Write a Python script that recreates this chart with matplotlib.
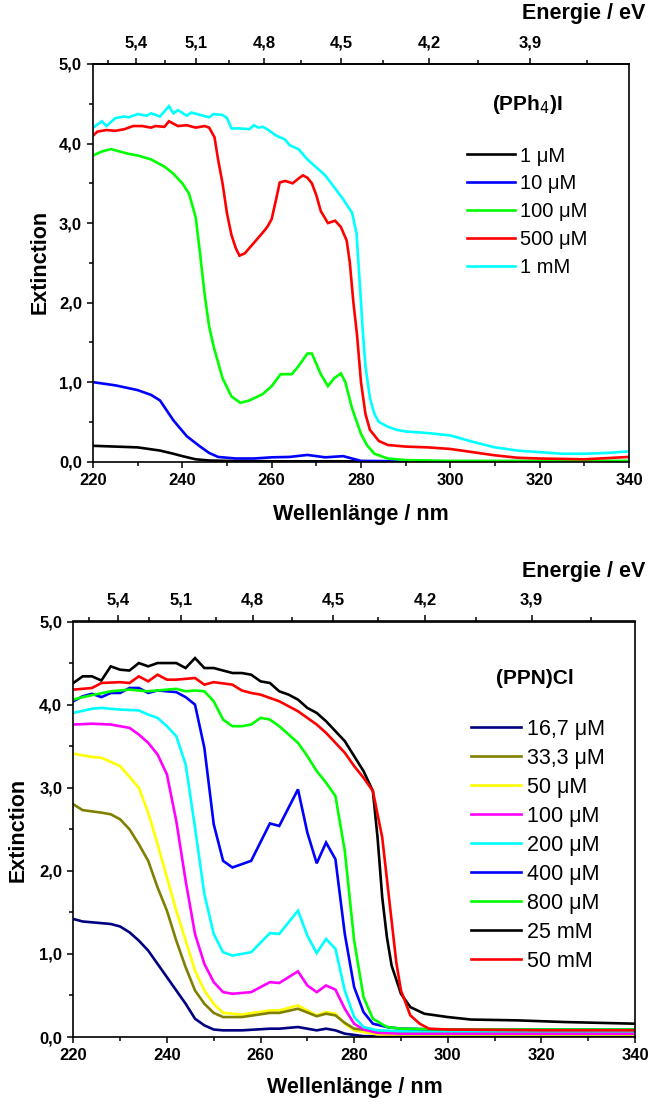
import numpy as np
import matplotlib
matplotlib.use("Agg")
import matplotlib.pyplot as plt
from matplotlib.ticker import FixedLocator, FuncFormatter, MultipleLocator

plt.rcParams['font.family'] = ['Liberation Sans', 'DejaVu Sans']

# ---------------- data: top panel (PPh4)I ----------------
top_title = "(PPh$_4$)I"
top_labels = ["1 μM", "10 μM", "100 μM", "500 μM", "1 mM"]
top_colors = ["#000000", "#0000ff", "#00ff00", "#ff0000", "#00ffff"]

t1_wl = [220, 225, 230, 235, 238, 240, 243, 246, 250, 260, 280, 300, 340]
t1_E = [0.20, 0.19, 0.18, 0.14, 0.10, 0.07, 0.03, 0.015, 0.01, 0.005, 0.005, 0.005, 0.005]

t2_wl = [220, 225, 230, 233, 235, 238, 241, 244, 246, 248, 252, 256, 260, 264, 268, 272, 276, 278, 280, 290, 340]
t2_E = [1.00, 0.96, 0.90, 0.84, 0.77, 0.52, 0.32, 0.19, 0.11, 0.06, 0.04, 0.04, 0.055, 0.06, 0.085, 0.055, 0.07, 0.04, 0.01, 0.005, 0.005]

t3_wl = [220, 222, 224, 226, 228, 230, 233, 236, 238, 240, 241.5, 243, 244, 245, 246, 247, 249, 251, 253, 255,
         258, 260, 262, 264.5, 266, 268, 269, 271, 272.6, 274, 275.5, 276.5, 278, 280, 281.3, 283, 286, 290, 300, 340]
t3_E = [3.85, 3.90, 3.93, 3.90, 3.87, 3.85, 3.80, 3.71, 3.62, 3.50, 3.37, 3.07, 2.60, 2.10, 1.70, 1.45, 1.05, 0.82, 0.74, 0.77,
        0.85, 0.95, 1.10, 1.10, 1.20, 1.36, 1.36, 1.10, 0.95, 1.05, 1.11, 1.00, 0.67, 0.35, 0.21, 0.10, 0.04, 0.02, 0.01, 0.01]

t4_wl = [220, 221, 223, 225, 227, 229, 231, 233, 234, 236, 237, 239, 241, 243, 245, 246, 247.2, 248, 249, 250, 251, 252,
         252.8, 254, 256, 258, 259, 260, 261, 261.8, 263, 264.7, 266, 267, 268, 269, 270, 271, 272.6, 274.2, 275.5, 276.8,
         277.5, 278.3, 279.1, 280, 281, 282, 284, 286, 290, 295, 300, 305, 310, 315, 320, 330, 340]
t4_E = [4.10, 4.15, 4.17, 4.16, 4.18, 4.22, 4.22, 4.20, 4.22, 4.21, 4.28, 4.22, 4.23, 4.20, 4.22, 4.20, 4.08, 3.80, 3.50, 3.12, 2.85, 2.68,
        2.59, 2.62, 2.75, 2.88, 2.95, 3.05, 3.30, 3.51, 3.53, 3.50, 3.56, 3.60, 3.57, 3.50, 3.35, 3.15, 3.00, 3.03, 2.95, 2.78,
        2.50, 2.00, 1.60, 1.00, 0.60, 0.40, 0.26, 0.21, 0.19, 0.18, 0.16, 0.12, 0.08, 0.05, 0.04, 0.03, 0.06]

t5_wl = [220, 222, 223, 225, 227, 228, 230, 232, 233, 235, 237, 238, 239, 241, 242, 244, 246, 247, 249, 250, 251, 253, 255,
         256, 257, 258, 259, 261, 263, 264, 266, 268, 270, 272, 274, 276, 278, 279, 280, 280.4, 281, 282, 283, 284, 286, 288,
         290, 295, 300, 305, 310, 315, 320, 325, 330, 335, 340]
t5_E = [4.20, 4.28, 4.22, 4.32, 4.34, 4.33, 4.37, 4.35, 4.38, 4.34, 4.47, 4.38, 4.42, 4.35, 4.39, 4.36, 4.33, 4.37, 4.36, 4.32, 4.19, 4.19, 4.18,
        4.23, 4.20, 4.21, 4.18, 4.10, 4.05, 3.98, 3.93, 3.80, 3.70, 3.60, 3.45, 3.30, 3.13, 2.87, 2.00, 1.64, 1.20, 0.80, 0.60, 0.50, 0.44, 0.40,
        0.38, 0.36, 0.33, 0.25, 0.18, 0.14, 0.12, 0.10, 0.10, 0.11, 0.13]

# ---------------- data: bottom panel (PPN)Cl ----------------
bot_title = "(PPN)Cl"
bot_labels = ["16,7 μM", "33,3 μM", "50 μM", "100 μM", "200 μM", "400 μM", "800 μM", "25 mM", "50 mM"]
bot_colors = ["#000080", "#808000", "#ffff00", "#ff00ff", "#00ffff", "#0000ff", "#00ff00", "#000000", "#ff0000"]

b1_wl = [220, 222, 224, 228, 230, 232, 234, 236, 238, 240, 242, 244, 246, 248, 250, 252, 256, 262, 264, 268, 272, 274, 276, 278, 282, 290, 300, 320, 340]
b1_E = [1.42, 1.39, 1.38, 1.36, 1.33, 1.26, 1.16, 1.04, 0.88, 0.72, 0.56, 0.40, 0.22, 0.14, 0.09, 0.08, 0.08, 0.10, 0.10, 0.12, 0.08, 0.10, 0.08, 0.04, 0.01, 0.01, 0.01, 0.01, 0.01]

b2_wl = [220, 222, 226, 228, 230, 232, 234, 236, 238, 240, 242, 244, 246, 248, 250, 252, 256, 262, 264, 268, 272, 274, 276, 278, 280, 285, 290, 300, 320, 340]
b2_E = [2.80, 2.73, 2.70, 2.68, 2.62, 2.50, 2.32, 2.12, 1.80, 1.52, 1.16, 0.84, 0.56, 0.40, 0.29, 0.24, 0.24, 0.29, 0.29, 0.34, 0.25, 0.28, 0.26, 0.17, 0.10, 0.07, 0.06, 0.06, 0.06, 0.06]

b3_wl = [220, 224, 226, 230, 234, 236, 238, 240, 242, 244, 246, 248, 250, 252, 256, 262, 264, 268, 272, 274, 276, 278, 280, 285, 290, 300, 320, 340]
b3_E = [3.41, 3.37, 3.36, 3.26, 3.00, 2.70, 2.32, 1.92, 1.52, 1.16, 0.80, 0.56, 0.40, 0.29, 0.27, 0.32, 0.32, 0.38, 0.26, 0.30, 0.28, 0.16, 0.08, 0.03, 0.03, 0.03, 0.03, 0.03]

b4_wl = [220, 224, 228, 232, 234, 236, 238, 240, 242, 244, 246, 248, 250, 252, 254, 258, 262, 264, 268, 270, 272, 274, 276, 278, 280, 282, 285, 290, 300, 320, 340]
b4_E = [3.76, 3.77, 3.76, 3.72, 3.64, 3.54, 3.40, 3.16, 2.60, 1.88, 1.24, 0.88, 0.66, 0.54, 0.52, 0.54, 0.66, 0.65, 0.79, 0.62, 0.54, 0.62, 0.57, 0.34, 0.16, 0.09, 0.05, 0.04, 0.04, 0.04, 0.04]

b5_wl = [220, 224, 226, 230, 234, 236, 238, 240, 242, 244, 246, 248, 250, 252, 254, 258, 262, 264, 268, 270, 272, 274, 276, 278, 280, 282, 285, 290, 300, 320, 340]
b5_E = [3.90, 3.95, 3.96, 3.94, 3.93, 3.88, 3.84, 3.74, 3.62, 3.28, 2.52, 1.72, 1.24, 1.02, 0.98, 1.02, 1.25, 1.24, 1.52, 1.22, 1.01, 1.18, 1.06, 0.56, 0.24, 0.12, 0.08, 0.07, 0.07, 0.07, 0.07]

b6_wl = [220, 222, 224, 226, 228, 230, 232, 234, 236, 238, 240, 242, 244, 246, 248, 250, 252, 254, 256, 258, 262, 264, 268, 270, 272, 274, 276, 278, 280, 282, 284, 287, 290, 300, 320, 340]
b6_E = [4.04, 4.10, 4.13, 4.09, 4.14, 4.14, 4.20, 4.20, 4.14, 4.17, 4.16, 4.15, 4.09, 4.00, 3.48, 2.56, 2.12, 2.04, 2.08, 2.12, 2.57, 2.54, 2.98, 2.46, 2.09, 2.34, 2.14, 1.24, 0.60, 0.30, 0.16, 0.12, 0.10, 0.09, 0.09, 0.09]

b7_wl = [220, 222, 228, 232, 236, 238, 242, 244, 246, 248, 250, 252, 254, 256, 258, 260, 262, 264, 266, 268, 270, 272, 274, 276, 278, 280, 282, 284, 287, 290, 300, 320, 340]
b7_E = [4.06, 4.09, 4.16, 4.18, 4.16, 4.17, 4.19, 4.16, 4.17, 4.16, 4.04, 3.82, 3.74, 3.74, 3.76, 3.84, 3.82, 3.74, 3.64, 3.54, 3.38, 3.20, 3.06, 2.90, 2.24, 1.16, 0.48, 0.22, 0.12, 0.10, 0.09, 0.09, 0.09]

b8_wl = [220, 222, 224, 226, 228, 230, 232, 234, 236, 238, 242, 244, 246, 248, 250, 254, 256, 258, 260, 262, 264, 266, 268, 270, 272, 274,
         276, 278, 280, 282, 284, 285, 286, 287, 288, 290, 292, 295, 300, 305, 315, 325, 340]
b8_E = [4.26, 4.34, 4.34, 4.29, 4.46, 4.42, 4.41, 4.50, 4.46, 4.50, 4.50, 4.44, 4.56, 4.44, 4.44, 4.38, 4.38, 4.36, 4.28, 4.26, 4.16, 4.12, 4.06, 3.96, 3.90, 3.80,
        3.68, 3.56, 3.38, 3.20, 2.96, 2.40, 1.68, 1.20, 0.86, 0.52, 0.36, 0.28, 0.24, 0.21, 0.20, 0.18, 0.16]

b9_wl = [220, 224, 226, 230, 232, 234, 236, 238, 240, 242, 246, 248, 250, 254, 256, 258, 260, 262, 264, 266, 268, 270, 272, 274, 276, 278,
         280, 282, 284, 286, 287, 288, 289, 290, 292, 294, 296, 300, 320, 340]
b9_E = [4.18, 4.20, 4.26, 4.27, 4.26, 4.34, 4.28, 4.36, 4.30, 4.30, 4.32, 4.24, 4.27, 4.24, 4.17, 4.14, 4.12, 4.08, 4.04, 3.98, 3.92, 3.84, 3.76, 3.66, 3.54, 3.42,
        3.26, 3.12, 2.96, 2.40, 1.90, 1.40, 0.90, 0.56, 0.26, 0.16, 0.10, 0.09, 0.08, 0.08]

top_series = [(t1_wl, t1_E), (t2_wl, t2_E), (t3_wl, t3_E), (t4_wl, t4_E), (t5_wl, t5_E)]
bot_series = [(b1_wl, b1_E), (b2_wl, b2_E), (b3_wl, b3_E), (b4_wl, b4_E), (b5_wl, b5_E),
              (b6_wl, b6_E), (b7_wl, b7_E), (b8_wl, b8_E), (b9_wl, b9_E)]
bot_draw_order = [0, 2, 1, 3, 4, 5, 6, 7, 8]

x_ticks = [220, 240, 260, 280, 300, 320, 340]
y_ticks = [0, 1, 2, 3, 4, 5]
ev_ticks = [5.4, 5.1, 4.8, 4.5, 4.2, 3.9]
ev_minor = [5.55, 5.25, 4.95, 4.65, 4.35, 4.05, 3.75]

HC = 1239.84


def nm2ev(x):
    x = np.asarray(x, dtype=float)
    with np.errstate(divide='ignore', invalid='ignore'):
        return HC / x


W, H = 652, 1108
fig = plt.figure(figsize=(W / 100, H / 100), dpi=100)

comma = FuncFormatter(lambda v, p: f"{v:.1f}".replace('.', ','))
comma_ev = FuncFormatter(lambda v, p: f"{v:.1f}".replace('.', ','))


def px_rect(l, r, t, b):
    return [l / W, 1 - b / H, (r - l) / W, (b - t) / H]


def style_axes(ax, lw_sp=1.2):
    ax.set_xlim(220, 340)
    ax.set_ylim(0, 5)
    for s in ax.spines.values():
        s.set_linewidth(lw_sp)
    ax.xaxis.set_major_locator(FixedLocator(x_ticks))
    ax.xaxis.set_minor_locator(MultipleLocator(10))
    ax.yaxis.set_major_locator(FixedLocator(y_ticks))
    ax.yaxis.set_minor_locator(MultipleLocator(0.5))
    ax.yaxis.set_major_formatter(comma)
    ax.tick_params(which='both', direction='out', top=False, right=False, width=1.1)
    ax.tick_params(which='major', length=4, labelsize=12, pad=4)
    ax.tick_params(which='minor', length=3)
    for lab in ax.get_xticklabels() + ax.get_yticklabels():
        lab.set_fontweight('bold')
    sec = ax.secondary_xaxis('top', functions=(nm2ev, nm2ev))
    sec.xaxis.set_major_locator(FixedLocator(ev_ticks))
    sec.xaxis.set_minor_locator(FixedLocator(ev_minor))
    sec.xaxis.set_major_formatter(comma_ev)
    sec.tick_params(which='both', direction='out', width=1.1)
    sec.tick_params(which='major', length=4, labelsize=12, pad=6)
    sec.tick_params(which='minor', length=3)
    sec.spines['top'].set_linewidth(lw_sp)
    for lab in sec.get_xticklabels():
        lab.set_fontweight('bold')
    return sec


# ---------- top panel ----------
ax1 = fig.add_axes(px_rect(93, 629, 64, 461.7))
style_axes(ax1)
handles = []
for (wl, E), c, lab in zip(top_series, top_colors, top_labels):
    h, = ax1.plot(wl, E, color=c, lw=1.9, label=lab, solid_joinstyle='miter')
    handles.append(h)
ax1.legend(handles=handles, loc='upper left', bbox_to_anchor=((467 - 93) / 536, (461.7 - 146.5) / 397.7),
           frameon=False, fontsize=14.5, handlelength=2.4, handletextpad=0.25, labelspacing=0.44,
           borderpad=0, borderaxespad=0)
fig.text(527 / W, 1 - 105 / H, top_title, ha='center', va='center', fontsize=15, fontweight='bold')
fig.text(361 / W, 1 - 515 / H, "Wellenlänge / nm", ha='center', va='center', fontsize=15.5, fontweight='bold')
fig.text(40 / W, 1 - 262 / H, "Extinction", ha='center', va='center', rotation=90, fontsize=15.5, fontweight='bold')
fig.text(645 / W, 1 - 14 / H, "Energie / eV", ha='right', va='center', fontsize=15.5, fontweight='bold')

# ---------- bottom panel ----------
ax2 = fig.add_axes(px_rect(73.3, 635, 621.5, 1037))
style_axes(ax2)
hdict = {}
for i in bot_draw_order:
    wl, E = bot_series[i]
    h, = ax2.plot(wl, E, color=bot_colors[i], lw=1.9, label=bot_labels[i], solid_joinstyle='miter')
    hdict[i] = h
ax2.legend(handles=[hdict[i] for i in range(len(bot_labels))], loc='upper left',
           bbox_to_anchor=((470.7 - 73.3) / 561.7, (1037 - 719) / 415.5),
           frameon=False, fontsize=15.5, handlelength=2.35, handletextpad=0.25, labelspacing=0.37,
           borderpad=0, borderaxespad=0)
fig.text(535 / W, 1 - 678 / H, bot_title, ha='center', va='center', fontsize=15, fontweight='bold')
fig.text(355 / W, 1 - 1088 / H, "Wellenlänge / nm", ha='center', va='center', fontsize=15.5, fontweight='bold')
fig.text(18 / W, 1 - 830 / H, "Extinction", ha='center', va='center', rotation=90, fontsize=15.5, fontweight='bold')
fig.text(645 / W, 1 - 572 / H, "Energie / eV", ha='right', va='center', fontsize=15.5, fontweight='bold')

fig.savefig("out.png", dpi=100)
